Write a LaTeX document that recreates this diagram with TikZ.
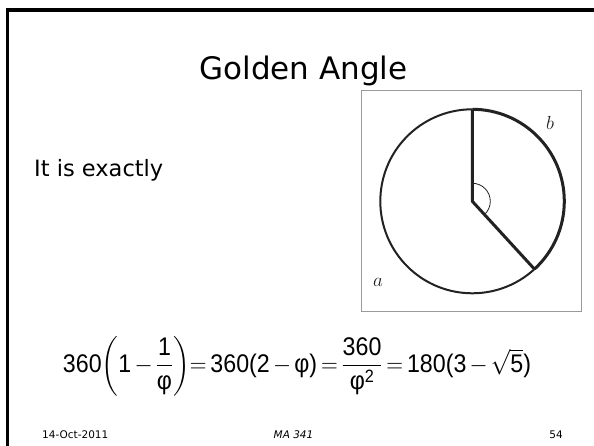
\documentclass[tikz,border=0pt]{standalone}
\usepackage{fix-cm}
\usepackage{amsmath}
\usepackage{graphicx}
\usepackage{fontspec}
\usetikzlibrary{calc}
\setmainfont{DejaVu Sans}
\newfontfamily\eqfont{Liberation Sans}
\newcommand{\ef}[1]{\text{\eqfont #1}}
\definecolor{ink}{HTML}{222222}
\definecolor{frame}{HTML}{9A9A9A}
\tikzset{
  slideborder/.style={line width=3.2pt, black},
  thinarc/.style={line width=2pt, ink},
  thickarc/.style={line width=3pt, ink},
  picframe/.style={draw=frame, line width=0.9pt},
  lbl/.style={inner sep=0pt, text=ink},
}
\begin{document}
\begin{tikzpicture}[x=1pt,y=1pt]
\useasboundingbox (0,0) rectangle (594,446);
\fill[white] (0,0) rectangle (594,446);
% slide border (top and left)
\coordinate (bl) at (7.5,0);
\coordinate (tl) at (7.5,436);
\coordinate (tr) at (594,436);
\draw[slideborder] (bl) -- (tl) -- (tr);
% title
\node[anchor=base, inner sep=0pt, font=\fontsize{31}{36}\selectfont] (title) at (303.5,366) {Golden Angle};
\node[anchor=base west, inner sep=0pt, font=\fontsize{22.5}{26}\selectfont] (txt) at (34,269) {It is exactly};
% picture box
\node[picframe, minimum width=220pt, minimum height=221pt, inner sep=0pt, anchor=south west] (box) at (361,134) {};
% circle
\coordinate (c) at (472.3,244.7);
\coordinate (top) at ($(c)+(90:92)$);
\coordinate (end) at ($(c)+(-47.5:92)$);
\draw[thinarc] (end) arc[start angle=-47.5, end angle=-270, radius=92];
\draw[thickarc] (top) arc[start angle=90, end angle=-47.5, radius=92];
\draw[thickarc, line join=round] (top) -- (c) -- (end);
\draw[ink, line width=0.8pt] ($(c)+(90:18)$) arc[start angle=90, end angle=-47.5, radius=18];
\node[lbl, font=\fontsize{19}{22}\selectfont] (lb) at (550,323) {$b$};
\node[lbl, font=\fontsize{19}{22}\selectfont] (la) at (378,164) {$a$};
% equation
\node[inner sep=0pt, font=\fontsize{25.5}{30}\selectfont] (eq) at (297,80)
 {\resizebox{468pt}{\height}{\medmuskip=2.5mu\thickmuskip=3mu $\ef{360}\!\left(\ef{1}-\dfrac{\ef{1}}{\ef{φ}}\right)\!=\ef{360(2}-\ef{φ)}=\dfrac{\ef{360}}{\ef{φ}^{\ef{2}}}=\ef{180(3}-\sqrt{\ef{5}}\ef{)}$}};
% footer
\node[anchor=base west, inner sep=0pt, font=\fontsize{10.5}{12}\selectfont] (date) at (42,7) {14-Oct-2011};
\node[anchor=base, inner sep=0pt, font=\fontsize{10.5}{12}\selectfont\itshape] (course) at (293.5,7) {MA 341};
\node[anchor=base east, inner sep=0pt, font=\fontsize{10.5}{12}\selectfont] (page) at (563,7) {54};
\end{tikzpicture}
\end{document}
